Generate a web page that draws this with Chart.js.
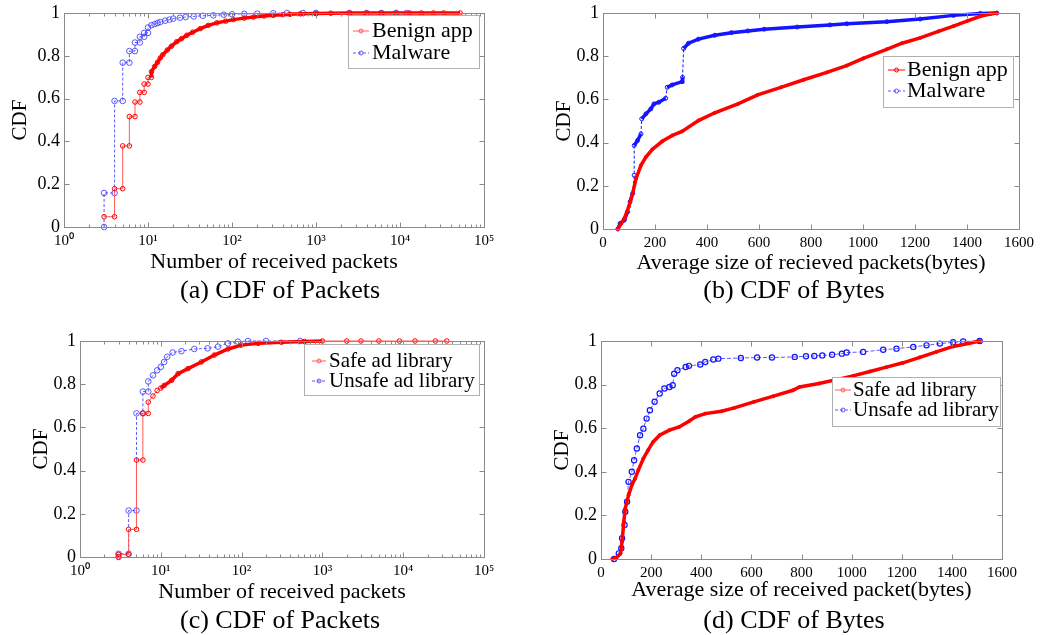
<!DOCTYPE html>
<html>
<head>
<meta charset="utf-8">
<script src="https://cdn.jsdelivr.net/npm/chart.js@4.4.0/dist/chart.umd.min.js"></script>
<style>
  html, body { margin: 0; padding: 0; background: #fff; }
  #wrap { position: relative; width: 1046px; height: 635px; overflow: hidden; }
  #wrap canvas { position: absolute; left: 0; top: 0; }
  .cap { position: absolute; transform: translate(-50%, -50%); font: 26px 'Liberation Serif', 'Times New Roman', serif; white-space: nowrap; color: #000; }
</style>
</head>
<body>
<div id="wrap">
  <canvas id="chartA" width="1046" height="635"></canvas>
  <canvas id="chartB" width="1046" height="635"></canvas>
  <canvas id="chartC" width="1046" height="635"></canvas>
  <canvas id="chartD" width="1046" height="635"></canvas>
  <div class="cap" style="left:280px;top:290px">(a) CDF of Packets</div>
  <div class="cap" style="left:794px;top:290px">(b) CDF of Bytes</div>
  <div class="cap" style="left:280px;top:620px">(c) CDF of Packets</div>
  <div class="cap" style="left:794px;top:620px">(d) CDF of Bytes</div>
</div>

<script>
// ================= DATA =================
const yTicks = [0, 0.2, 0.4, 0.6, 0.8, 1];
const logTicks = [1, 10, 100, 1000, 10000, 100000];
const supDigits = ["⁰", "¹", "²", "³", "⁴", "⁵"];

const appLabels = ["Benign app", "Malware"];
const libLabels = ["Safe ad library", "Unsafe ad library"];

// (a) packets, apps
const pktBenignX = [3, 4, 4, 5, 5, 6, 6, 7, 7, 8, 8, 9, 9, 10, 10, 11, 11, 12, 13, 14,
  15, 17, 19, 22, 25, 29, 34, 42, 52, 66, 84, 104, 140, 180, 240, 310, 400, 490, 650, 1000,
  1500, 2500, 4000, 6000, 9000, 13000, 18000, 25000, 33000, 52000];
const pktBenignY = [0.048, 0.048, 0.179, 0.179, 0.379, 0.379, 0.516, 0.516, 0.584, 0.584,
  0.629, 0.629, 0.668, 0.668, 0.699, 0.699, 0.726, 0.75, 0.77, 0.79,
  0.805, 0.827, 0.845, 0.866, 0.88, 0.896, 0.91, 0.927, 0.942, 0.954,
  0.962, 0.969, 0.976, 0.981, 0.986, 0.989, 0.992, 0.994, 0.996, 0.998,
  0.999, 1, 1, 1, 1, 1, 1, 1, 1, 1];
const pktMalwareX = [3, 3, 4, 4, 5, 5, 6, 6, 7, 7, 8, 8, 9, 9, 10, 10, 11, 12, 13, 14,
  16, 18, 20, 24, 28, 35, 45, 60, 80, 100, 140, 200, 310, 450, 700, 1000, 2500, 4000, 6000, 9000, 12000];
const pktMalwareY = [0, 0.159, 0.159, 0.589, 0.589, 0.768, 0.768, 0.822, 0.822, 0.862,
  0.862, 0.889, 0.889, 0.907, 0.907, 0.932, 0.943, 0.948, 0.953, 0.958,
  0.964, 0.969, 0.974, 0.978, 0.981, 0.984, 0.987, 0.989, 0.992, 0.994,
  0.996, 0.997, 0.999, 1, 1, 1, 1, 1, 1, 1, 1];

// (b) bytes, apps
const byteBenignX = [57, 70, 82, 99, 114, 127, 146, 165, 190, 228,
  266, 304, 367, 430, 519, 595, 684, 772, 861, 937,
  1001, 1091, 1150, 1220, 1290, 1348, 1400, 1451, 1490, 1515];
const byteBenignY = [0, 0.025, 0.049, 0.103, 0.164, 0.233, 0.295, 0.333, 0.369, 0.406,
  0.433, 0.452, 0.502, 0.538, 0.579, 0.621, 0.656, 0.691, 0.725, 0.756,
  0.79, 0.832, 0.86, 0.885, 0.915, 0.939, 0.962, 0.985, 0.995, 1];
const byteMalwareX = [57, 66, 82, 95, 104, 114, 120, 120, 133, 146,
  149, 165, 184, 196, 215, 241, 247, 266, 304, 306,
  310, 329, 367, 430, 494, 557, 620, 747, 873, 937,
  1091, 1220, 1348, 1451, 1515];
const byteMalwareY = [0, 0.026, 0.041, 0.08, 0.126, 0.164, 0.249, 0.387, 0.41, 0.44,
  0.51, 0.533, 0.556, 0.579, 0.587, 0.605, 0.656, 0.667, 0.682, 0.702,
  0.836, 0.86, 0.879, 0.897, 0.909, 0.917, 0.925, 0.935, 0.945, 0.95,
  0.96, 0.972, 0.989, 0.998, 1];

// (c) packets, ad libraries
const libPktSafeX = [3, 3, 4, 4, 5, 5, 6, 6, 7, 7, 8, 9, 10, 11, 13.6, 16.4, 21.7, 31.8, 46, 68,
  99, 160, 310, 600, 1000, 2000, 3000, 5000, 9000, 14000, 25000, 34600];
const libPktSafeY = [0, 0.012, 0.012, 0.128, 0.128, 0.449, 0.449, 0.665, 0.665, 0.717,
  0.745, 0.771, 0.782, 0.794, 0.818, 0.849, 0.872, 0.903, 0.935, 0.963,
  0.981, 0.989, 0.994, 0.998, 1, 1, 1, 1, 1, 1, 1, 1];
const libPktUnsafeX = [3, 3, 4, 4, 5, 5, 6, 6, 7, 7, 8, 9, 10, 11, 12, 14, 18, 26, 38, 51,
  68, 90, 120, 200, 530];
const libPktUnsafeY = [0, 0.015, 0.015, 0.215, 0.215, 0.665, 0.665, 0.766, 0.766, 0.813,
  0.841, 0.864, 0.88, 0.903, 0.927, 0.947, 0.953, 0.963, 0.966, 0.974,
  0.989, 0.997, 1, 1, 1];

// (d) bytes, ad libraries
const libByteSafeX = [45, 65, 78, 84, 91, 97, 110, 123, 136, 149,
  169, 188, 208, 234, 273, 312, 351, 377, 416, 481,
  532, 610, 688, 766, 792, 870, 948, 1006, 1073, 1139,
  1205, 1272, 1338, 1405, 1470, 1511];
const libByteSafeY = [0, 0.01, 0.026, 0.079, 0.171, 0.232, 0.293, 0.339, 0.369, 0.408,
  0.461, 0.499, 0.537, 0.568, 0.591, 0.606, 0.632, 0.652, 0.667, 0.678,
  0.693, 0.721, 0.747, 0.774, 0.789, 0.805, 0.825, 0.84, 0.86, 0.88,
  0.9, 0.925, 0.95, 0.975, 0.99, 1];
const libByteUnsafeX = [52, 71, 81, 84, 94, 97, 104, 110, 123, 132,
  143, 156, 169, 182, 195, 214, 234, 253, 273, 286,
  292, 305, 338, 351, 396, 416, 448, 468, 558, 623,
  682, 773, 818, 851, 883, 922, 961, 980, 1046, 1126,
  1179, 1246, 1299, 1352, 1405, 1445, 1511];
const libByteUnsafeY = [0, 0.026, 0.049, 0.095, 0.156, 0.217, 0.263, 0.354, 0.4, 0.453,
  0.507, 0.568, 0.598, 0.644, 0.682, 0.721, 0.759, 0.782, 0.789, 0.797,
  0.85, 0.866, 0.881, 0.886, 0.892, 0.904, 0.915, 0.919, 0.922, 0.924,
  0.924, 0.927, 0.93, 0.931, 0.934, 0.937, 0.942, 0.947, 0.95, 0.96,
  0.965, 0.973, 0.98, 0.988, 0.994, 0.998, 1];

// ================= HELPERS =================
Chart.defaults.font.family = "'Liberation Serif', 'Times New Roman', serif";
Chart.defaults.color = "#000";

function toPoints(xs, ys) {
  return xs.map((x, i) => ({ x: x, y: ys[i] }));
}

const RED = "#ff0000";
const RED_THIN = "#ff5a5a";
const BLUE = "#1414ff";
const BLUE_THIN = "rgba(50,50,255,0.8)";

// vertical jump in a dense curve -> thin dashed, like the matlab plot
function isJump(ctx) {
  return Math.abs(ctx.p1.y - ctx.p0.y) > 8 && Math.abs(ctx.p1.x - ctx.p0.x) < 2.5;
}

// frame, inward tick marks and in-plot legend
const framePlugin = {
  id: "frame",
  afterDatasetsDraw(chart, args, opts) {
    const { ctx, chartArea: a } = chart;
    const xs = chart.scales.x;
    const ys = chart.scales.y;
    ctx.save();
    ctx.strokeStyle = "#8a8a8a";
    ctx.lineWidth = 1;
    ctx.setLineDash([]);
    const L = Math.round(a.left) + 0.5, R = Math.round(a.right) + 0.5;
    const T = Math.round(a.top) + 0.5, B = Math.round(a.bottom) + 0.5;
    ctx.strokeRect(L, T, R - L, B - T);

    const seg = (x1, y1, x2, y2) => {
      ctx.beginPath(); ctx.moveTo(x1, y1); ctx.lineTo(x2, y2); ctx.stroke();
    };
    ys.ticks.forEach(t => {
      const py = Math.round(ys.getPixelForValue(t.value)) + 0.5;
      seg(L, py, L + 5, py); seg(R, py, R - 5, py);
    });
    xs.ticks.forEach(t => {
      const px = Math.round(xs.getPixelForValue(t.value)) + 0.5;
      seg(px, B, px, B - 5); seg(px, T, px, T + 5);
    });
    if (xs.type === "logarithmic") {
      for (let k = 0; k < 5; k++) {
        for (let m = 2; m < 10; m++) {
          const px = Math.round(xs.getPixelForValue(m * Math.pow(10, k))) + 0.5;
          seg(px, B, px, B - 3); seg(px, T, px, T + 3);
        }
      }
    }

    const lg = opts.legend;
    if (lg) {
      ctx.fillStyle = "#fff";
      ctx.fillRect(lg.left, lg.top, lg.width, lg.height);
      ctx.strokeStyle = "#b0b0b0";
      ctx.strokeRect(lg.left + 0.5, lg.top + 0.5, lg.width, lg.height);
      chart.data.datasets.forEach((ds, i) => {
        const y = lg.rows[i];
        ctx.strokeStyle = ds.legendColor;
        ctx.lineWidth = 1;
        ctx.setLineDash(ds.legendDash || []);
        seg(lg.sample[0], y, lg.sample[1], y);
        ctx.setLineDash([]);
        ctx.beginPath();
        ctx.arc((lg.sample[0] + lg.sample[1]) / 2, y, 2, 0, Math.PI * 2);
        ctx.stroke();
        ctx.fillStyle = "#000";
        ctx.font = lg.fontSize + "px 'Liberation Serif', 'Times New Roman', serif";
        ctx.textBaseline = "middle";
        ctx.textAlign = "left";
        ctx.fillText(ds.label, lg.textX, y);
      });
    }
    ctx.restore();
  }
};

function buildChart(canvasId, p) {
  const isLog = p.xType === "log";
  const xScale = {
    type: isLog ? "logarithmic" : "linear",
    min: p.xMin,
    max: p.xMax,
    afterFit: s => { s.height = p.xTitleY + 13.2 - p.area.bottom; },
    grid: { display: false, drawTicks: false },
    border: { display: false },
    ticks: {
      autoSkip: false,
      maxRotation: 0,
      padding: 5,
      font: { size: 15 },
      color: "#000",
      callback: isLog
        ? v => "10" + supDigits[Math.round(Math.log10(v))]
        : v => String(v)
    },
    title: { display: true, text: p.xTitle, font: { size: 22 }, padding: 0, color: "#000" }
  };
  if (isLog) {
    xScale.afterBuildTicks = s => { s.ticks = logTicks.map(v => ({ value: v })); };
  } else {
    xScale.ticks.stepSize = 200;
  }

  return new Chart(document.getElementById(canvasId), {
    type: "line",
    data: { datasets: p.datasets },
    options: {
      responsive: false,
      animation: false,
      devicePixelRatio: 1,
      layout: {
        padding: {
          left: p.yTitleX - 12.6,
          top: p.area.top,
          right: 1046 - p.area.right,
          bottom: 635 - p.xTitleY - 13.2
        }
      },
      plugins: {
        legend: { display: false },
        tooltip: { enabled: false },
        frame: { legend: p.legend }
      },
      scales: {
        x: xScale,
        y: {
          min: 0,
          max: 1,
          afterFit: s => { s.width = p.area.left - (p.yTitleX - 12.6); },
          afterBuildTicks: s => { s.ticks = yTicks.map(v => ({ value: v })); },
          grid: { display: false, drawTicks: false },
          border: { display: false },
          ticks: {
            padding: 4,
            font: { size: 18, lineHeight: 1 },
            color: "#000",
            callback: v => String(+v.toFixed(1))
          },
          title: { display: true, text: "CDF", font: { size: 21 }, padding: 0, color: "#000" }
        }
      }
    },
    plugins: [framePlugin]
  });
}

// ================= PANELS =================
// (a) CDF of Packets
buildChart("chartA", {
  xType: "log", xMin: 1, xMax: 100000,
  area: { left: 64, top: 11, right: 484, bottom: 227 },
  yTitleX: 20, xTitleY: 262,
  xTitle: "Number of received packets",
  legend: { left: 348, top: 15, width: 131, height: 53, rows: [31, 53], sample: [353, 369], textX: 372, fontSize: 22 },
  datasets: [
    {
      label: appLabels[0],
      data: toPoints(pktBenignX, pktBenignY),
      borderColor: RED_THIN, borderWidth: 1, legendColor: RED_THIN,
      pointRadius: 2.3, pointBorderWidth: 1, pointBorderColor: RED, pointBackgroundColor: "rgba(255,255,255,0)",
      clip: 8,
      segment: {
        borderWidth: ctx => ctx.p0.parsed.x >= 11 ? 3.5 : undefined,
        borderColor: ctx => ctx.p0.parsed.x >= 11 ? RED : undefined
      }
    },
    {
      label: appLabels[1],
      data: toPoints(pktMalwareX, pktMalwareY),
      borderColor: BLUE_THIN, borderWidth: 1, borderDash: [3, 2], legendColor: BLUE_THIN, legendDash: [3, 2],
      pointRadius: 2.8, pointBorderWidth: 1, pointBorderColor: BLUE_THIN, pointBackgroundColor: "rgba(255,255,255,0)",
      clip: 8
    }
  ]
});

// (b) CDF of Bytes
buildChart("chartB", {
  xType: "linear", xMin: 0, xMax: 1600,
  area: { left: 603, top: 12, right: 1019, bottom: 229 },
  yTitleX: 564, xTitleY: 263,
  xTitle: "Average size of recieved packets(bytes)",
  legend: { left: 883, top: 56, width: 130, height: 51, rows: [70, 91], sample: [888, 905], textX: 907, fontSize: 22 },
  datasets: [
    {
      label: appLabels[0],
      data: toPoints(byteBenignX, byteBenignY),
      borderColor: RED, borderWidth: 3.5, legendColor: RED,
      pointRadius: 1.5, pointBorderWidth: 1, pointBorderColor: RED, pointBackgroundColor: RED,
      clip: 8
    },
    {
      label: appLabels[1],
      data: toPoints(byteMalwareX, byteMalwareY),
      borderColor: BLUE, borderWidth: 3.5, legendColor: BLUE_THIN, legendDash: [3, 2],
      pointRadius: 2, pointBorderWidth: 1, pointBorderColor: BLUE, pointBackgroundColor: "rgba(255,255,255,0)",
      clip: 8,
      segment: {
        borderWidth: ctx => isJump(ctx) ? 1 : undefined,
        borderDash: ctx => isJump(ctx) ? [3, 2] : undefined
      }
    }
  ]
});

// (c) CDF of Packets, ad libraries
buildChart("chartC", {
  xType: "log", xMin: 1, xMax: 100000,
  area: { left: 80, top: 341, right: 484, bottom: 557 },
  yTitleX: 41, xTitleY: 592,
  xTitle: "Number of received packets",
  legend: { left: 304, top: 344, width: 175, height: 51, rows: [361, 381], sample: [312, 326], textX: 329, fontSize: 21 },
  datasets: [
    {
      label: libLabels[0],
      data: toPoints(libPktSafeX, libPktSafeY),
      borderColor: RED_THIN, borderWidth: 1, legendColor: RED_THIN,
      pointRadius: 2.3, pointBorderWidth: 1, pointBorderColor: RED, pointBackgroundColor: "rgba(255,255,255,0)",
      clip: 8,
      segment: {
        borderWidth: ctx => (ctx.p0.parsed.x >= 10 && ctx.p1.parsed.x <= 1000) ? 3.5 : undefined,
        borderColor: ctx => (ctx.p0.parsed.x >= 10 && ctx.p1.parsed.x <= 1000) ? RED : undefined
      }
    },
    {
      label: libLabels[1],
      data: toPoints(libPktUnsafeX, libPktUnsafeY),
      borderColor: BLUE_THIN, borderWidth: 1, borderDash: [3, 2], legendColor: BLUE_THIN, legendDash: [3, 2],
      pointRadius: 2.8, pointBorderWidth: 1, pointBorderColor: BLUE_THIN, pointBackgroundColor: "rgba(255,255,255,0)",
      clip: 8
    }
  ]
});

// (d) CDF of Bytes, ad libraries
buildChart("chartD", {
  xType: "linear", xMin: 0, xMax: 1600,
  area: { left: 601, top: 341, right: 1002, bottom: 559 },
  yTitleX: 562, xTitleY: 590,
  xTitle: "Average size of received packet(bytes)",
  legend: { left: 832, top: 377, width: 168, height: 49, rows: [390, 410], sample: [835, 851], textX: 853, fontSize: 21 },
  datasets: [
    {
      label: libLabels[0],
      data: toPoints(libByteSafeX, libByteSafeY),
      borderColor: RED, borderWidth: 3.5, legendColor: RED_THIN,
      pointRadius: 1.5, pointBorderWidth: 1, pointBorderColor: RED, pointBackgroundColor: RED,
      clip: 8
    },
    {
      label: libLabels[1],
      data: toPoints(libByteUnsafeX, libByteUnsafeY),
      borderColor: BLUE_THIN, borderWidth: 1, borderDash: [4, 2], legendColor: BLUE_THIN, legendDash: [3, 2],
      pointRadius: 2.6, pointBorderWidth: 1.2, pointBorderColor: BLUE, pointBackgroundColor: "rgba(255,255,255,0)",
      clip: 8
    }
  ]
});
</script>
</body>
</html>
